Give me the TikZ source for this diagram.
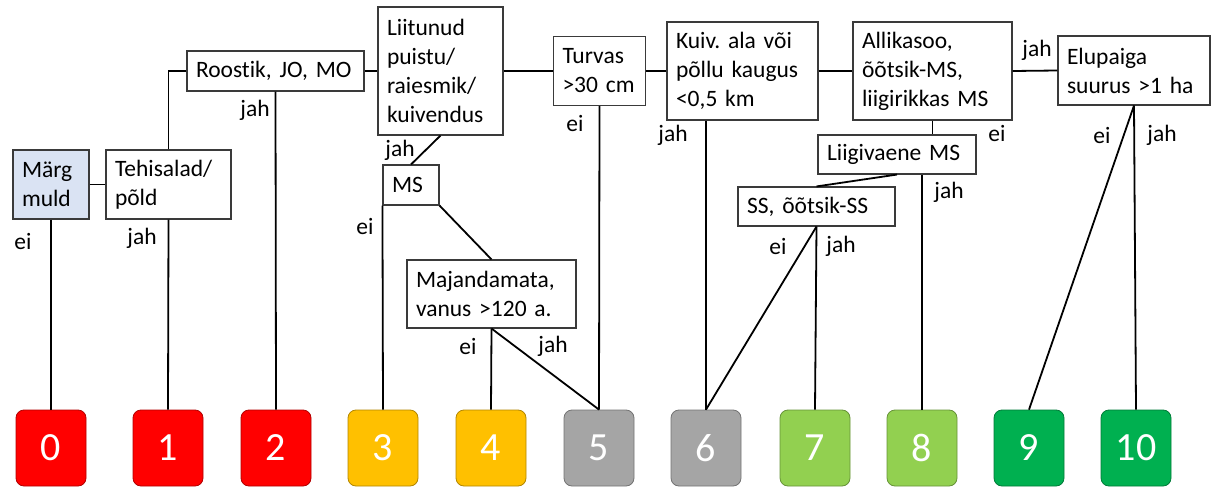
\documentclass[tikz,border=0pt]{standalone}
\usepackage{fontspec}
\setmainfont{Carlito}[Ligatures=NoCommon]
\definecolor{boxline}{HTML}{3A3A3A}
\definecolor{soilblue}{HTML}{DAE3F3}
\definecolor{gRed}{HTML}{FF0000}
\definecolor{gAmber}{HTML}{FFC000}
\definecolor{gGray}{HTML}{A5A5A5}
\definecolor{gLight}{HTML}{92D050}
\definecolor{gDark}{HTML}{00B050}
\newcommand{\qfont}{\fontsize{23.5}{29}\selectfont\frenchspacing\spaceskip=0.2em\relax}
\begin{document}
\begin{tikzpicture}[x=1pt,y=-1pt,
  qbox/.style={draw=boxline, line width=1.1pt, fill=white, align=left,
    inner xsep=9pt, inner ysep=0pt, font=\qfont},
  lab/.style={inner sep=0pt, font=\qfont},
  conn/.style={line width=1.8pt, black},
  grade/.style={fill=#1, draw=#1!70!black, line width=0.8pt, rounded corners=8pt,
    minimum width=70pt, minimum height=76pt, inner sep=0pt, text=white,
    font=\fontsize{40}{40}\selectfont}
]
\useasboundingbox (0,0) rectangle (1213,487);

% decision boxes
\node[qbox, fill=soilblue, text width=58pt, minimum height=69pt] (mm) at (51,184.5) {Märg\\muld};
\node[qbox, text width=107pt, minimum height=69pt] (teh) at (168.5,184.5) {Tehisalad/\\põld};
\node[qbox, text width=159pt, minimum height=40pt] (roo) at (275.5,71) {Roostik, JO, MO};
\node[qbox, text width=107pt, minimum height=128pt] (lii) at (440.5,71) {Liitunud\\puistu/\\raiesmik/\\kuivendus};
\node[qbox, text width=74pt, minimum height=69pt] (tur) at (599.5,71) {Turvas\\>30 cm};
\node[qbox, text width=133pt, minimum height=98pt] (kui) at (742.5,71) {Kuiv. ala või\\põllu kaugus\\<0,5 km};
\node[qbox, text width=141pt, minimum height=98pt] (all) at (932.5,71) {Allikasoo,\\õõtsik-MS,\\liigirikkas MS};
\node[qbox, text width=134pt, minimum height=69pt] (elu) at (1134,70.5) {Elupaiga\\suurus >1 ha};
\node[qbox, text width=38pt, minimum height=40pt] (ms) at (411,185) {MS};
\node[qbox, text width=151pt, minimum height=68pt] (maj) at (491.5,294) {Majandamata,\\vanus >120 a.};
\node[qbox, text width=140pt, minimum height=39pt] (liig) at (897,154.5) {Liigivaene MS};
\node[qbox, text width=139pt, minimum height=39pt] (ss) at (816.5,206.5) {SS, õõtsik-SS};

% grade boxes
\node[grade=gRed]   (b0)  at (51,448)   {0};
\node[grade=gRed]   (b1)  at (168,448)  {1};
\node[grade=gRed]   (b2)  at (276,448)  {2};
\node[grade=gAmber] (b3)  at (383,448)  {3};
\node[grade=gAmber] (b4)  at (491,448)  {4};
\node[grade=gGray]  (b5)  at (599,448)  {5};
\node[grade=gGray]  (b6)  at (706,448)  {6};
\node[grade=gLight] (b7)  at (815,448)  {7};
\node[grade=gLight] (b8)  at (922,448)  {8};
\node[grade=gDark]  (b9)  at (1029,448) {9};
\node[grade=gDark]  (b10) at (1136,448) {10};

% connectors
\draw[conn] (mm.east) -- (teh.west);
\draw[conn] (teh.north) |- (roo.west);
\draw[conn] (roo.east) -- (lii.west);
\draw[conn] (lii.east) -- (tur.west);
\draw[conn] (tur.east) -- (kui.west);
\draw[conn] (kui.east) -- (all.west);
\draw[conn] (all.east) -- (elu.west);
\draw[conn] (mm.south) -- (b0.north);
\draw[conn] (teh.south) -- (b1.north);
\draw[conn] (roo.south) -- (b2.north);
\draw[conn] (lii.south) -- (ms.north);
\draw[conn] (ms.south west) -- (b3.north);
\draw[conn] (ms.south east) -- (maj.north);
\draw[conn] (maj.south) -- (b4.north);
\draw[conn] (maj.south) -- (b5.north);
\draw[conn] (tur.south) -- (b5.north);
\draw[conn] (b6.north) -- (b6.north |- kui.south);
\draw[conn] (all.south) -- (all.south |- liig.north);
\draw[conn] (liig.south) -- (ss.north);
\draw[conn] (b8.north) -- (b8.north |- liig.south);
\draw[conn] (ss.south) -- (b7.north);
\draw[conn] (ss.south) -- (b6.north);
\draw[conn] (elu.south) -- (b9.north);
\draw[conn] (elu.south) -- (b10.north);

% branch labels
\node[lab] (l1)  at (23,241)   {ei};
\node[lab] (l2)  at (142,238)  {jah};
\node[lab] (l3)  at (255,110)  {jah};
\node[lab] (l4)  at (400,150)  {jah};
\node[lab] (l5)  at (365,226)  {ei};
\node[lab] (l6)  at (575,123)  {ei};
\node[lab] (l7)  at (468,346)  {ei};
\node[lab] (l8)  at (553,346)  {jah};
\node[lab] (l9)  at (673,135)  {jah};
\node[lab] (l10) at (1037,50)  {jah};
\node[lab] (l11) at (997,133)  {ei};
\node[lab] (l12) at (949,192)  {jah};
\node[lab] (l13) at (778,246)  {ei};
\node[lab] (l14) at (841,246)  {jah};
\node[lab] (l15) at (1102,135) {ei};
\node[lab] (l16) at (1162,135) {jah};
\end{tikzpicture}
\end{document}
